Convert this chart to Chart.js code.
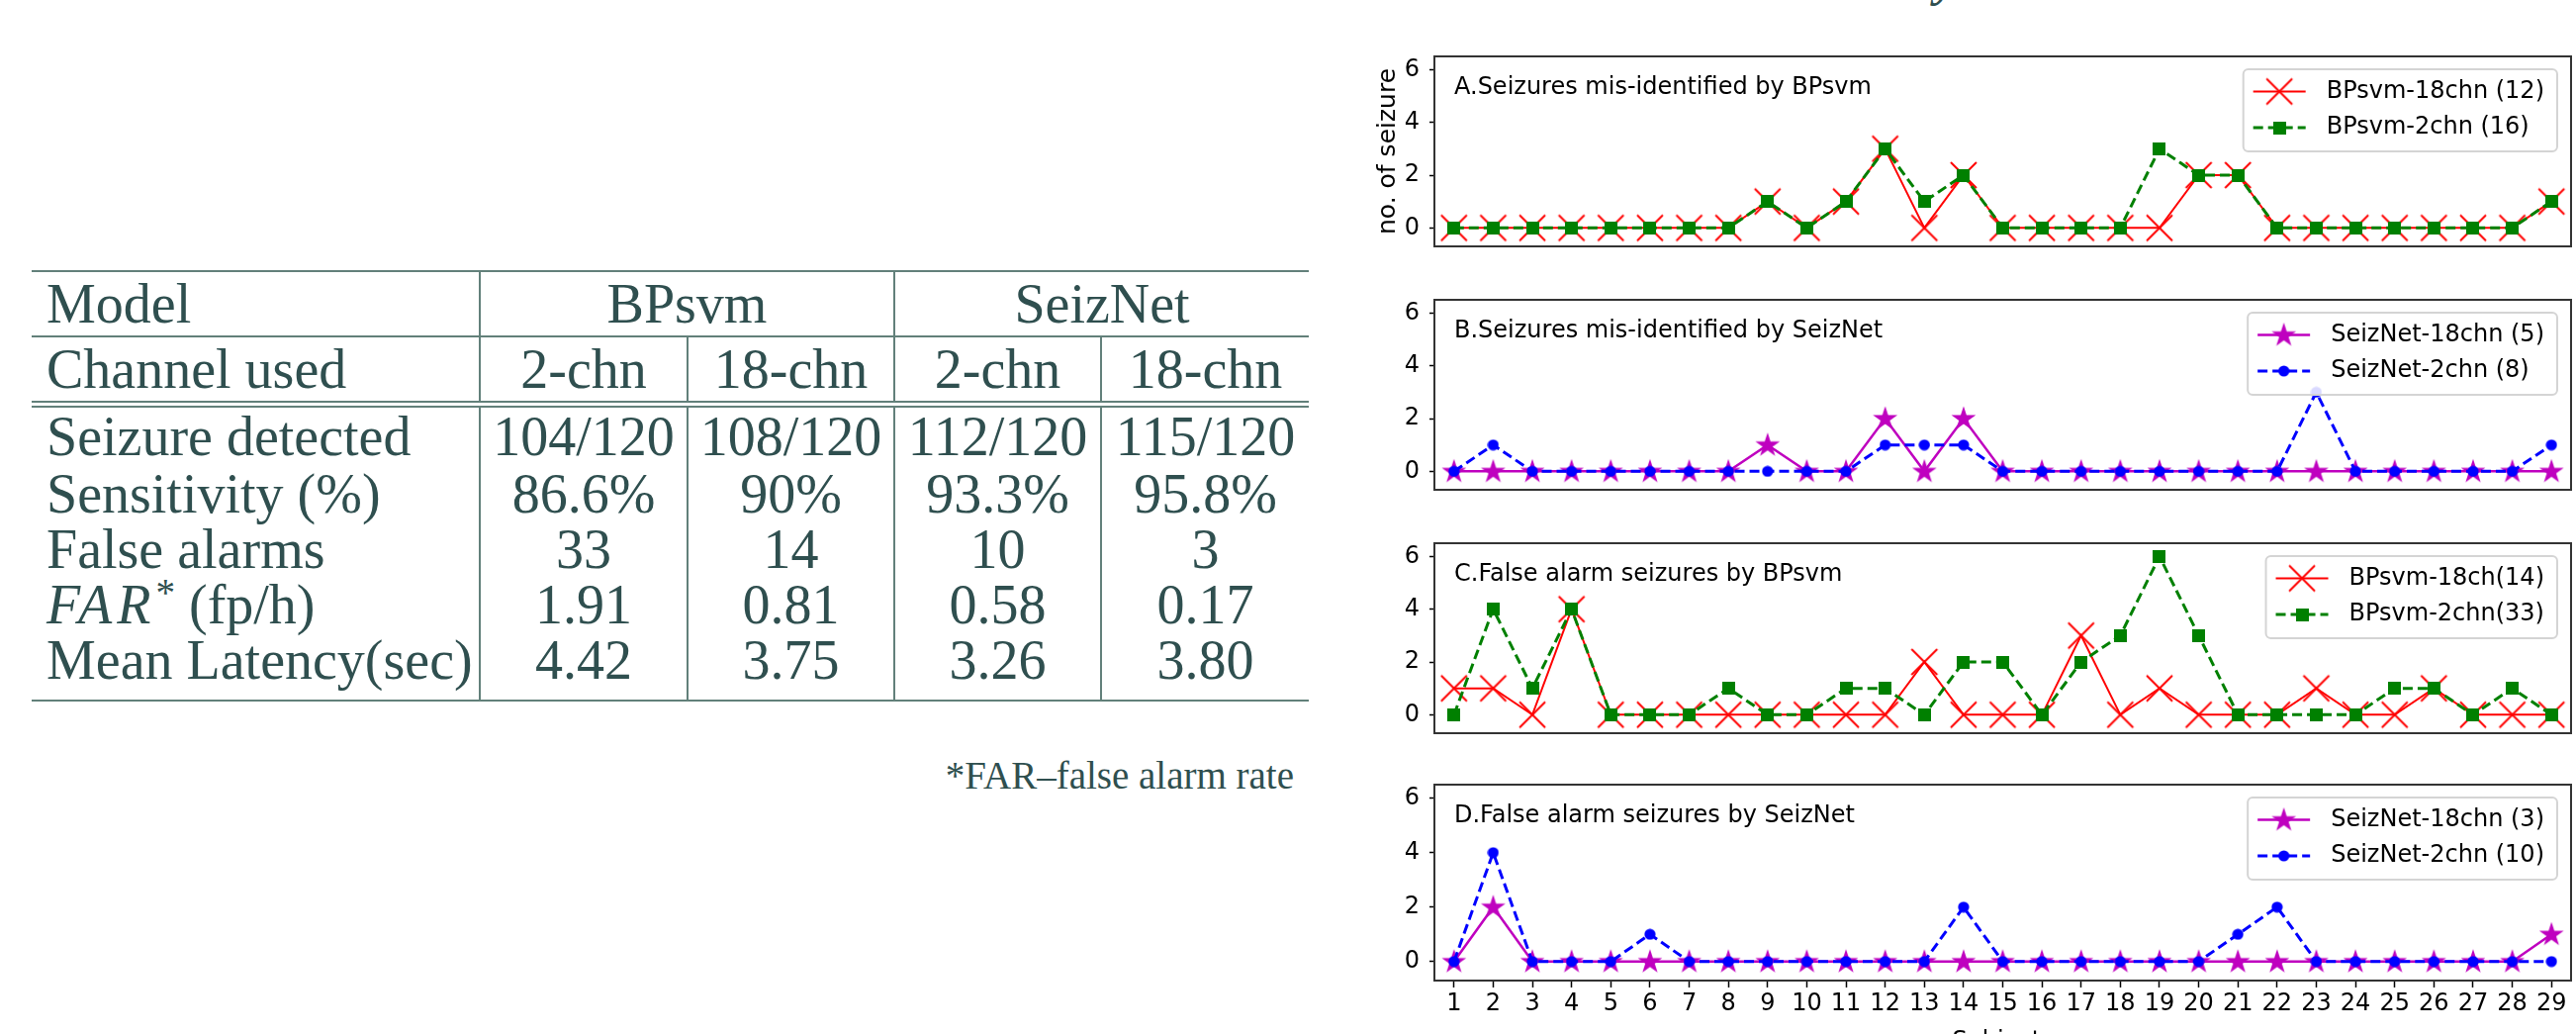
<!DOCTYPE html>
<html>
<head>
<meta charset="utf-8">
<title>Seizure detection results</title>
<script src="https://cdn.jsdelivr.net/npm/chart.js@4.4.1/dist/chart.umd.min.js"></script>
<style>
  html, body { margin: 0; padding: 0; background: #fff; overflow: hidden; }
  #page { position: relative; width: 2604px; height: 1045px; overflow: hidden; }
  #res {
    position: absolute; left: 32px; top: 273px;
    border-collapse: collapse; table-layout: fixed; width: 1291px;
    font-family: "Liberation Serif", "Times New Roman", serif; font-size: 56px; color: #2f4f4f;
  }
  #res td { padding: 0; line-height: 1; vertical-align: middle; white-space: nowrap; }
  #res td.name { padding-left: 15px; text-align: left; }
  #res td.val { text-align: center; }
  #res td.vl { border-left: 2px solid #62807a; }
  #res tr.h1 { height: 66px; }
  #res tr.h1 td { border-top: 2px solid #62807a; border-bottom: 2px solid #62807a; }
  #res tr.h2 { height: 68px; }
  #res tr.h2 td { border-bottom: 7px double #62807a; }
  #res tr.d { height: 55px; }
  #res tr.first { height: 63px; }
  #res tr.last { height: 62px; }
  #res tr.last td { border-bottom: 2px solid #62807a; padding-bottom: 12px; }
  #res i { letter-spacing: 5px; }
  #res sup { font-size: 0.7em; line-height: 0; vertical-align: 0.45em; }
  #foot {
    position: absolute; left: 0; width: 1308px; top: 764px; text-align: right;
    font-family: "Liberation Serif", "Times New Roman", serif; font-size: 39px; line-height: 1; color: #2f4f4f;
  }
  #cut {
    position: absolute; left: 1956px; top: -44px;
    font-family: "Liberation Serif", serif; font-style: italic; font-weight: bold;
    font-size: 48px; line-height: 1; color: #2f4f4f;
  }
  canvas.panel { position: absolute; left: 1380px; }
</style>
</head>
<body>
<div id="page">
  <div id="cut">y</div>

  <table id="res">
    <colgroup>
      <col style="width:453px"><col style="width:210px"><col style="width:209px"><col style="width:209px"><col style="width:210px">
    </colgroup>
    <tbody>
      <tr class="h1"><td class="name">Model</td><td class="val vl" colspan="2">BPsvm</td><td class="val vl" colspan="2">SeizNet</td></tr>
      <tr class="h2"><td class="name">Channel used</td><td class="val vl">2-chn</td><td class="val vl">18-chn</td><td class="val vl">2-chn</td><td class="val vl">18-chn</td></tr>
      <tr class="d first"><td class="name">Seizure detected</td><td class="val vl">104/120</td><td class="val vl">108/120</td><td class="val vl">112/120</td><td class="val vl">115/120</td></tr>
      <tr class="d"><td class="name">Sensitivity (%)</td><td class="val vl">86.6%</td><td class="val vl">90%</td><td class="val vl">93.3%</td><td class="val vl">95.8%</td></tr>
      <tr class="d"><td class="name">False alarms</td><td class="val vl">33</td><td class="val vl">14</td><td class="val vl">10</td><td class="val vl">3</td></tr>
      <tr class="d"><td class="name"><i>FAR</i><sup>*</sup> (fp/h)</td><td class="val vl">1.91</td><td class="val vl">0.81</td><td class="val vl">0.58</td><td class="val vl">0.17</td></tr>
      <tr class="d last"><td class="name">Mean Latency(sec)</td><td class="val vl">4.42</td><td class="val vl">3.75</td><td class="val vl">3.26</td><td class="val vl">3.80</td></tr>
    </tbody>
  </table>
  <div id="foot">*FAR&#8211;false alarm rate</div>

  <canvas class="panel" id="p0" width="1230" height="214" style="top:46px"></canvas>
  <canvas class="panel" id="p1" width="1230" height="214" style="top:292px"></canvas>
  <canvas class="panel" id="p2" width="1230" height="214" style="top:538px"></canvas>
  <canvas class="panel" id="p3" width="1230" height="290" style="top:782px"></canvas>
</div>

<script>
(function () {
  "use strict";

  // subjects on the x axis, ticks on the y axis
  var subjects = [1, 2, 3, 4, 5, 6, 7, 8, 9, 10, 11, 12, 13, 14, 15, 16, 17, 18, 19, 20,
                  21, 22, 23, 24, 25, 26, 27, 28, 29];
  var yTicks = [0, 2, 4, 6];

  // A. seizures mis-identified by BPsvm
  var bpsvm18Missed = [0, 0, 0, 0, 0, 0, 0, 0, 1, 0, 1, 3, 0, 2, 0, 0, 0, 0, 0, 2, 2, 0, 0, 0, 0, 0, 0, 0, 1];
  var bpsvm2Missed  = [0, 0, 0, 0, 0, 0, 0, 0, 1, 0, 1, 3, 1, 2, 0, 0, 0, 0, 3, 2, 2, 0, 0, 0, 0, 0, 0, 0, 1];
  // B. seizures mis-identified by SeizNet
  var seiznet18Missed = [0, 0, 0, 0, 0, 0, 0, 0, 1, 0, 0, 2, 0, 2, 0, 0, 0, 0, 0, 0, 0, 0, 0, 0, 0, 0, 0, 0, 0];
  var seiznet2Missed  = [0, 1, 0, 0, 0, 0, 0, 0, 0, 0, 0, 1, 1, 1, 0, 0, 0, 0, 0, 0, 0, 0, 3, 0, 0, 0, 0, 0, 1];
  // C. false alarm seizures by BPsvm
  var bpsvm18False = [1, 1, 0, 4, 0, 0, 0, 0, 0, 0, 0, 0, 2, 0, 0, 0, 3, 0, 1, 0, 0, 0, 1, 0, 0, 1, 0, 0, 0];
  var bpsvm2False  = [0, 4, 1, 4, 0, 0, 0, 1, 0, 0, 1, 1, 0, 2, 2, 0, 2, 3, 6, 3, 0, 0, 0, 0, 1, 1, 0, 1, 0];
  // D. false alarm seizures by SeizNet
  var seiznet18False = [0, 2, 0, 0, 0, 0, 0, 0, 0, 0, 0, 0, 0, 0, 0, 0, 0, 0, 0, 0, 0, 0, 0, 0, 0, 0, 0, 0, 1];
  var seiznet2False  = [0, 4, 0, 0, 0, 1, 0, 0, 0, 0, 0, 0, 0, 2, 0, 0, 0, 0, 0, 0, 1, 2, 0, 0, 0, 0, 0, 0, 0];

  var panelTitles = [
    "A.Seizures mis-identified by BPsvm",
    "B.Seizures mis-identified by SeizNet",
    "C.False alarm seizures by BPsvm",
    "D.False alarm seizures by SeizNet",
  ];
  var legendLabels = [
    ["BPsvm-18chn (12)", "BPsvm-2chn (16)"],
    ["SeizNet-18chn (5)", "SeizNet-2chn (8)"],
    ["BPsvm-18ch(14)", "BPsvm-2chn(33)"],
    ["SeizNet-18chn (3)", "SeizNet-2chn (10)"],
  ];
  var panelSeries = [
    [bpsvm18Missed, bpsvm2Missed],
    [seiznet18Missed, seiznet2Missed],
    [bpsvm18False, bpsvm2False],
    [seiznet18False, seiznet2False],
  ];

  var FONT = '"DejaVu Sans", sans-serif';
  var RED = "#ff0000", GREEN = "#008000", MAGENTA = "#bf00bf", BLUE = "#0000ff";

  // ---- marker images ----
  function blank(size) {
    var c = document.createElement("canvas");
    c.width = size; c.height = size;
    return c;
  }
  function xMarker(color) {
    var c = blank(30), g = c.getContext("2d");
    g.strokeStyle = color; g.lineWidth = 2;
    g.beginPath();
    g.moveTo(2, 2); g.lineTo(28, 28);
    g.moveTo(28, 2); g.lineTo(2, 28);
    g.stroke();
    return c;
  }
  function squareMarker(color) {
    var c = blank(13), g = c.getContext("2d");
    g.fillStyle = color; g.fillRect(0, 0, 13, 13);
    return c;
  }
  function circleMarker(color) {
    var c = blank(12), g = c.getContext("2d");
    g.fillStyle = color; g.beginPath(); g.arc(6, 6, 5.6, 0, Math.PI * 2); g.fill();
    return c;
  }
  function starMarker(color) {
    var c = blank(28), g = c.getContext("2d");
    var R = 13, r = 5;
    g.translate(14, 14.5);
    g.beginPath();
    for (var k = 0; k < 10; k++) {
      var rad = k % 2 ? r : R;
      var a = -Math.PI / 2 + k * Math.PI / 5;
      g.lineTo(rad * Math.cos(a), rad * Math.sin(a));
    }
    g.closePath(); g.fillStyle = color; g.fill();
    return c;
  }

  var styles = [
    [{ color: RED, marker: xMarker(RED), width: 2, dash: [] },
     { color: GREEN, marker: squareMarker(GREEN), width: 3, dash: [10, 5] }],
    [{ color: MAGENTA, marker: starMarker(MAGENTA), width: 2.5, dash: [] },
     { color: BLUE, marker: circleMarker(BLUE), width: 3, dash: [10, 5] }],
  ];

  function points(values) {
    return values.map(function (v, i) { return { x: subjects[i], y: v }; });
  }

  // frame, panel title and in-plot legend
  var decor = {
    id: "panelDecor",
    afterDatasetsDraw: function (chart, args, opts) {
      var ctx = chart.ctx, a = chart.chartArea;
      ctx.save();
      ctx.strokeStyle = "#333"; ctx.lineWidth = 2;
      ctx.strokeRect(a.left, a.top, a.right - a.left, a.bottom - a.top);

      ctx.font = "24px " + FONT;
      ctx.fillStyle = "#000"; ctx.textBaseline = "middle"; ctx.textAlign = "left";
      ctx.fillText(opts.title, a.left + 20, a.top + 32);

      var tw = Math.max(ctx.measureText(opts.labels[0]).width, ctx.measureText(opts.labels[1]).width);
      var w = 84 + tw + 13, h = 83;
      var right = a.right - 14, left = right - w, top = a.top + 13;
      ctx.beginPath();
      if (ctx.roundRect) ctx.roundRect(left, top, w, h, 5); else ctx.rect(left, top, w, h);
      ctx.fillStyle = "rgba(255,255,255,0.85)"; ctx.fill();
      ctx.strokeStyle = "#d4d4d4"; ctx.lineWidth = 2; ctx.stroke();

      var rows = [top + 22.5, top + 59];
      opts.styles.forEach(function (s, i) {
        var y = rows[i];
        ctx.strokeStyle = s.color; ctx.lineWidth = s.width; ctx.setLineDash(s.dash);
        ctx.beginPath(); ctx.moveTo(left + 10, y); ctx.lineTo(left + 63, y); ctx.stroke();
        ctx.setLineDash([]);
        var m = s.marker;
        ctx.drawImage(m, left + 36.5 - m.width / 2, y - m.height / 2);
        ctx.fillStyle = "#000";
        ctx.fillText(opts.labels[i], left + 84, y);
      });
      ctx.restore();
    },
  };

  function buildPanel(idx) {
    var isLast = idx === 3;
    var st = styles[idx % 2];
    var series = panelSeries[idx];
    var datasets = [0, 1].map(function (k) {
      return {
        label: legendLabels[idx][k],
        data: points(series[k]),
        borderColor: st[k].color,
        backgroundColor: st[k].color,
        borderWidth: st[k].width,
        borderDash: st[k].dash,
        pointStyle: st[k].marker,
        pointRadius: 8,
        pointHoverRadius: 8,
        tension: 0,
        fill: false,
        clip: false,
        order: k === 0 ? 2 : 1,
      };
    });

    new Chart(document.getElementById("p" + idx), {
      type: "line",
      data: { datasets: datasets },
      options: {
        responsive: false,
        animation: false,
        devicePixelRatio: 1,
        events: [],
        layout: { padding: { top: 5, right: 0, bottom: isLast ? 0 : 5, left: 0 } },
        plugins: {
          legend: { display: false },
          tooltip: { enabled: false },
          panelDecor: { title: panelTitles[idx], labels: legendLabels[idx], styles: st },
        },
        scales: {
          x: {
            type: "linear",
            min: 0.5,
            max: 29.5,
            display: isLast,
            afterBuildTicks: function (s) {
              s.ticks = subjects.map(function (v) { return { value: v }; });
            },
            afterFit: function (s) {
              if (isLast) s.height = 81;
              s.paddingLeft = 0; s.paddingRight = 0;
            },
            border: { display: false },
            grid: { drawOnChartArea: false, drawTicks: true, tickLength: 7, tickColor: "#000", tickWidth: 1.5 },
            ticks: { autoSkip: false, maxRotation: 0, padding: 2, color: "#000", font: { size: 24 } },
            title: { display: isLast, text: "Subjects", color: "#000", font: { size: 24 }, padding: { top: 0, bottom: 5 } },
          },
          y: {
            type: "linear",
            min: -0.7,
            max: 6.5,
            afterBuildTicks: function (s) {
              s.ticks = yTicks.map(function (v) { return { value: v }; });
            },
            afterFit: function (s) {
              s.width = 70;
              s.paddingTop = 0; s.paddingBottom = 0;
            },
            border: { display: false },
            grid: { drawOnChartArea: false, drawTicks: true, tickLength: 5, tickColor: "#000", tickWidth: 1.5 },
            ticks: { padding: 10, color: "#000", font: { size: 24 } },
            title: { display: idx === 0, text: "no. of seizure", color: "#000", font: { size: 25 }, padding: { top: 8, bottom: 0 } },
          },
        },
      },
      plugins: [decor],
    });
  }

  function init() {
    if (typeof Chart === "undefined") return;
    Chart.defaults.font.family = FONT;
    Chart.defaults.font.size = 24;
    Chart.defaults.color = "#000";
    for (var i = 0; i < 4; i++) buildPanel(i);
  }

  if (document.readyState === "loading") {
    document.addEventListener("DOMContentLoaded", init);
  } else {
    init();
  }
})();
</script>
</body>
</html>
